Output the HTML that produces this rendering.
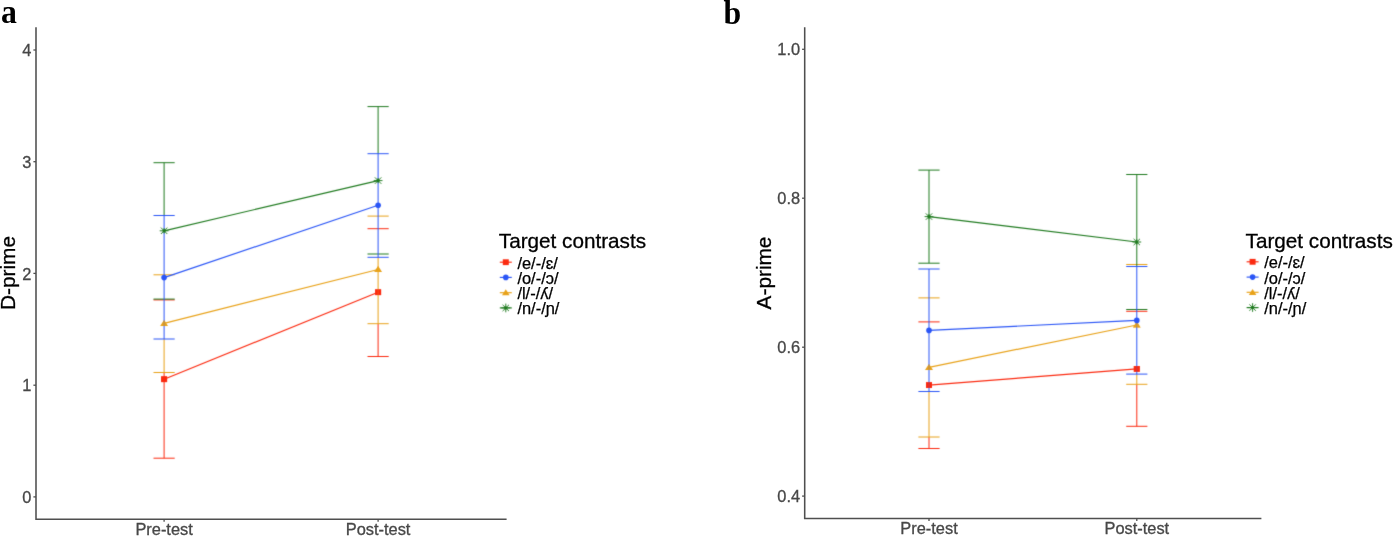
<!DOCTYPE html>
<html><head><meta charset="utf-8"><title>Figure</title>
<style>
html,body{margin:0;padding:0;background:#fff;}
body{width:1393px;height:536px;overflow:hidden;font-family:"Liberation Sans",sans-serif;}
svg{display:block;will-change:transform;}
</style></head><body>
<svg width="1393" height="536" viewBox="0 0 1393 536" font-family="'Liberation Sans', sans-serif">
<rect width="1393" height="536" fill="#fff"/>
<defs><filter id="soft" filterUnits="userSpaceOnUse" x="0" y="0" width="1393" height="536" color-interpolation-filters="sRGB"><feConvolveMatrix order="3" kernelMatrix="0.01433 0.09104 0.01433 0.09104 0.57851 0.09104 0.01433 0.09104 0.01433" divisor="1" edgeMode="none" preserveAlpha="false"/></filter></defs>
<text transform="translate(1.1 23.4) scale(0.95 1)" font-family="'Liberation Serif', serif" font-weight="bold" font-size="33.5" fill="#000">a</text>
<text transform="translate(723.4 23.7) scale(0.95 0.975)" font-family="'Liberation Serif', serif" font-weight="bold" font-size="33.5" fill="#000">b</text>
<path d="M36.0 27.3V519.2H506.6" stroke="#4f4f4f" stroke-width="1.55" fill="none"/>
<line x1="33.4" y1="50.0" x2="36.0" y2="50.0" stroke="#4f4f4f" stroke-width="1.3"/>
<text x="31.4" y="56.10" font-size="16.4" fill="#474747" stroke="#474747" stroke-width="0.3" text-anchor="end">4</text>
<line x1="33.4" y1="161.7" x2="36.0" y2="161.7" stroke="#4f4f4f" stroke-width="1.3"/>
<text x="31.4" y="167.85" font-size="16.4" fill="#474747" stroke="#474747" stroke-width="0.3" text-anchor="end">3</text>
<line x1="33.4" y1="273.4" x2="36.0" y2="273.4" stroke="#4f4f4f" stroke-width="1.3"/>
<text x="31.4" y="279.60" font-size="16.4" fill="#474747" stroke="#474747" stroke-width="0.3" text-anchor="end">2</text>
<line x1="33.4" y1="385.2" x2="36.0" y2="385.2" stroke="#4f4f4f" stroke-width="1.3"/>
<text x="31.4" y="391.35" font-size="16.4" fill="#474747" stroke="#474747" stroke-width="0.3" text-anchor="end">1</text>
<line x1="33.4" y1="496.9" x2="36.0" y2="496.9" stroke="#4f4f4f" stroke-width="1.3"/>
<text x="31.4" y="503.10" font-size="16.4" fill="#474747" stroke="#474747" stroke-width="0.3" text-anchor="end">0</text>
<line x1="164.1" y1="519.2" x2="164.1" y2="521.8" stroke="#4f4f4f" stroke-width="1.3"/>
<text x="164.1" y="534.6" font-size="16.4" fill="#474747" stroke="#474747" stroke-width="0.3" text-anchor="middle">Pre-test</text>
<line x1="378.1" y1="519.2" x2="378.1" y2="521.8" stroke="#4f4f4f" stroke-width="1.3"/>
<text x="378.1" y="534.6" font-size="16.4" fill="#474747" stroke="#474747" stroke-width="0.3" text-anchor="middle">Post-test</text>
<text transform="translate(15.4 273) rotate(-90)" font-size="20.8" fill="#000" stroke="#000" stroke-width="0.3" text-anchor="middle">D-prime</text>
<g filter="url(#soft)">
<path d="M153.5 299.9H174.7M153.5 458.2H174.7M164.1 372.5V458.2" stroke="#fb2a10" stroke-width="1.0" fill="none"/>
<path d="M367.5 228.7H388.7M367.5 356.5H388.7M378.1 323.7V356.5" stroke="#fb2a10" stroke-width="1.0" fill="none"/>
<line x1="164.1" y1="379.2" x2="378.1" y2="292.2" stroke="#fb2a10" stroke-width="1.2"/>
<rect x="161.1" y="376.3" width="6" height="5.8" fill="#fb2a10"/>
<rect x="375.1" y="289.3" width="6" height="5.8" fill="#fb2a10"/>
<path d="M153.5 274.8H174.7M153.5 372.5H174.7M164.1 339.0V372.5" stroke="#e8a219" stroke-width="1.0" fill="none"/>
<path d="M367.5 216.1H388.7M367.5 323.7H388.7M378.1 257.3V323.7" stroke="#e8a219" stroke-width="1.0" fill="none"/>
<line x1="164.1" y1="323.3" x2="378.1" y2="269.5" stroke="#e8a219" stroke-width="1.2"/>
<path d="M164.1 319.9L167.9 325.9H160.3Z" fill="#e8a219"/>
<path d="M378.1 266.1L381.9 272.1H374.3Z" fill="#e8a219"/>
<path d="M153.5 162.7H174.7M153.5 299.1H174.7M164.1 162.7V215.5" stroke="#1f7a1f" stroke-width="1.0" fill="none"/>
<path d="M367.5 106.6H388.7M367.5 254.0H388.7M378.1 106.6V153.7" stroke="#1f7a1f" stroke-width="1.0" fill="none"/>
<path d="M153.5 215.5H174.7M153.5 339.0H174.7M164.1 215.5V339.0" stroke="#2a55f6" stroke-width="1.0" fill="none"/>
<path d="M367.5 153.7H388.7M367.5 257.3H388.7M378.1 153.7V257.3" stroke="#2a55f6" stroke-width="1.0" fill="none"/>
<g opacity="0.7"><rect x="161.1" y="376.3" width="6" height="5.8" fill="#fb2a10"/></g>
<g opacity="0.7"><rect x="375.1" y="289.3" width="6" height="5.8" fill="#fb2a10"/></g>
<g opacity="0.7"><path d="M164.1 319.9L167.9 325.9H160.3Z" fill="#e8a219"/></g>
<g opacity="0.7"><path d="M378.1 266.1L381.9 272.1H374.3Z" fill="#e8a219"/></g>
<line x1="164.1" y1="277.6" x2="378.1" y2="205.2" stroke="#2a55f6" stroke-width="1.2"/>
<circle cx="164.1" cy="277.6" r="2.8" fill="#2a55f6"/>
<circle cx="378.1" cy="205.2" r="2.8" fill="#2a55f6"/>
<line x1="164.1" y1="230.8" x2="378.1" y2="180.6" stroke="#1f7a1f" stroke-width="1.2"/>
<path d="M159.7 230.8H168.5M164.1 228.2V233.4M160.9 227.6L167.3 234.0M160.9 234.0L167.3 227.6" stroke="#1f7a1f" stroke-width="0.95" fill="none"/><circle cx="164.1" cy="230.8" r="1.6" fill="#1f7a1f"/>
<path d="M373.7 180.6H382.5M378.1 178.0V183.2M374.9 177.4L381.3 183.8M374.9 183.8L381.3 177.4" stroke="#1f7a1f" stroke-width="0.95" fill="none"/><circle cx="378.1" cy="180.6" r="1.6" fill="#1f7a1f"/>
</g>
<text x="498.8" y="247.9" font-size="20.7" fill="#000" stroke="#000" stroke-width="0.3">Target contrasts</text>
<g filter="url(#soft)"><line x1="499.8" y1="262.2" x2="511.8" y2="262.2" stroke="#fb2a10" stroke-width="1.15"/>
<rect x="502.8" y="259.3" width="6" height="5.8" fill="#fb2a10"/></g>
<text x="517.4" y="268.7" font-size="16.45" fill="#000" stroke="#000" stroke-width="0.25">/e/-/ɛ/</text>
<g filter="url(#soft)"><line x1="499.8" y1="277.4" x2="511.8" y2="277.4" stroke="#2a55f6" stroke-width="1.15"/>
<circle cx="505.8" cy="277.4" r="2.8" fill="#2a55f6"/></g>
<text x="517.4" y="283.9" font-size="16.45" fill="#000" stroke="#000" stroke-width="0.25">/o/-/ɔ/</text>
<g filter="url(#soft)"><line x1="499.8" y1="292.7" x2="511.8" y2="292.7" stroke="#e8a219" stroke-width="1.15"/>
<path d="M505.8 289.3L509.6 295.3H502.0Z" fill="#e8a219"/></g>
<text x="517.4" y="299.2" font-size="16.45" fill="#000" stroke="#000" stroke-width="0.25">/l/-/ʎ/</text>
<g filter="url(#soft)"><line x1="499.8" y1="307.9" x2="511.8" y2="307.9" stroke="#1f7a1f" stroke-width="1.15"/>
<path d="M501.4 307.9H510.2M505.8 303.6V312.3M502.6 304.8L509.0 311.1M502.6 311.1L509.0 304.8" stroke="#1f7a1f" stroke-width="0.95" fill="none"/><circle cx="505.8" cy="307.9" r="1.6" fill="#1f7a1f"/></g>
<text x="517.4" y="314.4" font-size="16.45" fill="#000" stroke="#000" stroke-width="0.25">/n/-/ɲ/</text>
<path d="M804.7 27.3V518.4H1261.4" stroke="#4f4f4f" stroke-width="1.55" fill="none"/>
<line x1="802.1" y1="49.3" x2="804.7" y2="49.3" stroke="#4f4f4f" stroke-width="1.3"/>
<text x="800.1" y="55.45" font-size="16.4" fill="#474747" stroke="#474747" stroke-width="0.3" text-anchor="end">1.0</text>
<line x1="802.1" y1="198.2" x2="804.7" y2="198.2" stroke="#4f4f4f" stroke-width="1.3"/>
<text x="800.1" y="204.40" font-size="16.4" fill="#474747" stroke="#474747" stroke-width="0.3" text-anchor="end">0.8</text>
<line x1="802.1" y1="347.2" x2="804.7" y2="347.2" stroke="#4f4f4f" stroke-width="1.3"/>
<text x="800.1" y="353.35" font-size="16.4" fill="#474747" stroke="#474747" stroke-width="0.3" text-anchor="end">0.6</text>
<line x1="802.1" y1="496.1" x2="804.7" y2="496.1" stroke="#4f4f4f" stroke-width="1.3"/>
<text x="800.1" y="502.25" font-size="16.4" fill="#474747" stroke="#474747" stroke-width="0.3" text-anchor="end">0.4</text>
<line x1="929.0" y1="518.4" x2="929.0" y2="521.0" stroke="#4f4f4f" stroke-width="1.3"/>
<text x="929.0" y="534.4" font-size="16.4" fill="#474747" stroke="#474747" stroke-width="0.3" text-anchor="middle">Pre-test</text>
<line x1="1136.8" y1="518.4" x2="1136.8" y2="521.0" stroke="#4f4f4f" stroke-width="1.3"/>
<text x="1136.8" y="534.4" font-size="16.4" fill="#474747" stroke="#474747" stroke-width="0.3" text-anchor="middle">Post-test</text>
<text transform="translate(770.9 273) rotate(-90)" font-size="20.8" fill="#000" stroke="#000" stroke-width="0.3" text-anchor="middle">A-prime</text>
<g filter="url(#soft)">
<path d="M918.4 321.9H939.6M918.4 448.5H939.6M929.0 437.0V448.5" stroke="#fb2a10" stroke-width="1.0" fill="none"/>
<path d="M1126.2 311.3H1147.4M1126.2 426.3H1147.4M1136.8 384.3V426.3" stroke="#fb2a10" stroke-width="1.0" fill="none"/>
<line x1="929.0" y1="385.1" x2="1136.8" y2="368.9" stroke="#fb2a10" stroke-width="1.2"/>
<rect x="926.0" y="382.2" width="6" height="5.8" fill="#fb2a10"/>
<rect x="1133.8" y="366.0" width="6" height="5.8" fill="#fb2a10"/>
<path d="M918.4 297.9H939.6M918.4 437.0H939.6M929.0 391.5V437.0" stroke="#e8a219" stroke-width="1.0" fill="none"/>
<path d="M1126.2 264.5H1147.4M1126.2 384.3H1147.4M1136.8 374.1V384.3" stroke="#e8a219" stroke-width="1.0" fill="none"/>
<line x1="929.0" y1="367.3" x2="1136.8" y2="325.0" stroke="#e8a219" stroke-width="1.2"/>
<path d="M929.0 363.9L932.8 369.9H925.2Z" fill="#e8a219"/>
<path d="M1136.8 321.6L1140.6 327.6H1133.0Z" fill="#e8a219"/>
<path d="M918.4 170.1H939.6M918.4 263.2H939.6M929.0 170.1V263.2" stroke="#1f7a1f" stroke-width="1.0" fill="none"/>
<path d="M1126.2 174.5H1147.4M1126.2 309.5H1147.4M1136.8 174.5V266.5" stroke="#1f7a1f" stroke-width="1.0" fill="none"/>
<path d="M918.4 269.0H939.6M918.4 391.5H939.6M929.0 269.0V391.5" stroke="#2a55f6" stroke-width="1.0" fill="none"/>
<path d="M1126.2 266.5H1147.4M1126.2 374.1H1147.4M1136.8 266.5V374.1" stroke="#2a55f6" stroke-width="1.0" fill="none"/>
<g opacity="0.7"><rect x="926.0" y="382.2" width="6" height="5.8" fill="#fb2a10"/></g>
<g opacity="0.7"><rect x="1133.8" y="366.0" width="6" height="5.8" fill="#fb2a10"/></g>
<g opacity="0.7"><path d="M929.0 363.9L932.8 369.9H925.2Z" fill="#e8a219"/></g>
<g opacity="0.7"><path d="M1136.8 321.6L1140.6 327.6H1133.0Z" fill="#e8a219"/></g>
<line x1="929.0" y1="330.4" x2="1136.8" y2="320.4" stroke="#2a55f6" stroke-width="1.2"/>
<circle cx="929.0" cy="330.4" r="2.8" fill="#2a55f6"/>
<circle cx="1136.8" cy="320.4" r="2.8" fill="#2a55f6"/>
<line x1="929.0" y1="216.6" x2="1136.8" y2="242.0" stroke="#1f7a1f" stroke-width="1.2"/>
<path d="M924.6 216.6H933.4M929.0 214.0V219.2M925.8 213.4L932.2 219.8M925.8 219.8L932.2 213.4" stroke="#1f7a1f" stroke-width="0.95" fill="none"/><circle cx="929.0" cy="216.6" r="1.6" fill="#1f7a1f"/>
<path d="M1132.4 242.0H1141.2M1136.8 239.4V244.6M1133.6 238.8L1140.0 245.2M1133.6 245.2L1140.0 238.8" stroke="#1f7a1f" stroke-width="0.95" fill="none"/><circle cx="1136.8" cy="242.0" r="1.6" fill="#1f7a1f"/>
</g>
<text x="1245.6" y="247.5" font-size="20.7" fill="#000" stroke="#000" stroke-width="0.3">Target contrasts</text>
<g filter="url(#soft)"><line x1="1246.6" y1="261.8" x2="1258.6" y2="261.8" stroke="#fb2a10" stroke-width="1.15"/>
<rect x="1249.6" y="258.9" width="6" height="5.8" fill="#fb2a10"/></g>
<text x="1264.2" y="268.3" font-size="16.45" fill="#000" stroke="#000" stroke-width="0.25">/e/-/ɛ/</text>
<g filter="url(#soft)"><line x1="1246.6" y1="277.1" x2="1258.6" y2="277.1" stroke="#2a55f6" stroke-width="1.15"/>
<circle cx="1252.6" cy="277.1" r="2.8" fill="#2a55f6"/></g>
<text x="1264.2" y="283.6" font-size="16.45" fill="#000" stroke="#000" stroke-width="0.25">/o/-/ɔ/</text>
<g filter="url(#soft)"><line x1="1246.6" y1="292.3" x2="1258.6" y2="292.3" stroke="#e8a219" stroke-width="1.15"/>
<path d="M1252.6 288.9L1256.4 294.9H1248.8Z" fill="#e8a219"/></g>
<text x="1264.2" y="298.8" font-size="16.45" fill="#000" stroke="#000" stroke-width="0.25">/l/-/ʎ/</text>
<g filter="url(#soft)"><line x1="1246.6" y1="307.6" x2="1258.6" y2="307.6" stroke="#1f7a1f" stroke-width="1.15"/>
<path d="M1248.2 307.6H1257.0M1252.6 303.2V311.9M1249.4 304.4L1255.8 310.8M1249.4 310.8L1255.8 304.4" stroke="#1f7a1f" stroke-width="0.95" fill="none"/><circle cx="1252.6" cy="307.6" r="1.6" fill="#1f7a1f"/></g>
<text x="1264.2" y="314.1" font-size="16.45" fill="#000" stroke="#000" stroke-width="0.25">/n/-/ɲ/</text>
</svg>
</body></html>
